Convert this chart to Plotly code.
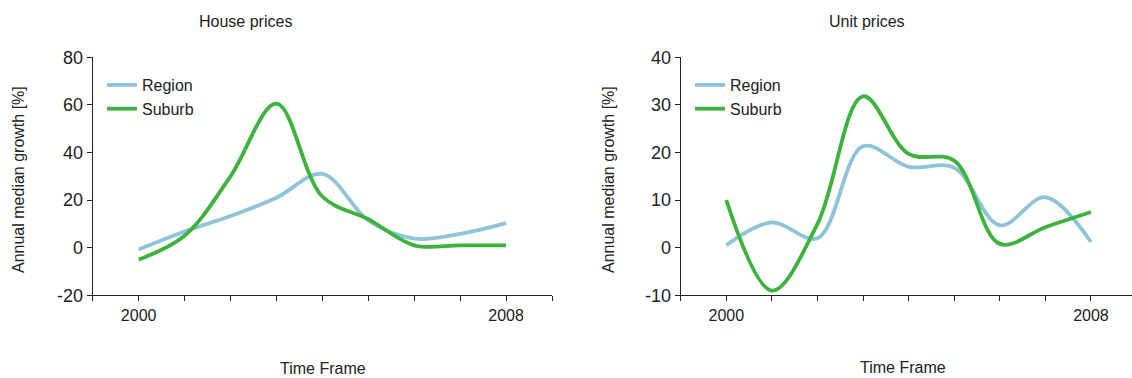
import plotly.graph_objects as go

years = [2000, 2001, 2002, 2003, 2004, 2005, 2006, 2007, 2008]

house_region = [-0.8, 6.8, 13.3, 21.0, 31.0, 11.5, 3.8, 5.8, 10.3]
house_suburb = [-5.0, 5.0, 30.0, 60.5, 21.5, 12.0, 1.0, 1.0, 1.0]

unit_region = [0.5, 5.3, 2.0, 21.3, 17.0, 16.8, 4.7, 10.6, 1.2]
unit_suburb = [10.0, -9.0, 5.0, 31.8, 19.7, 18.3, 0.8, 4.3, 7.5]

house_yticks = [-20, 0, 20, 40, 60, 80]
unit_yticks = [-10, 0, 10, 20, 30, 40]
xtick_vals = list(range(1999, 2010))
xtick_text = ["" if v not in (2000, 2008) else str(v) for v in xtick_vals]

REGION_COLOR = "#8fc3da"
SUBURB_COLOR = "#3db33d"
TEXT = "#222222"
AXIS = "#222222"
FONT = "Liberation Sans, Arial, sans-serif"

W, H = 1132, 378

def px_x(p):
    return p / W

def px_y(p):
    return 1 - p / H

fig = go.Figure()

LW = 3.8
fig.add_trace(go.Scatter(x=years, y=house_region, name="Region", mode="lines",
                         line=dict(color=REGION_COLOR, width=LW, shape="spline", smoothing=1.0),
                         xaxis="x", yaxis="y", legend="legend"))
fig.add_trace(go.Scatter(x=years, y=house_suburb, name="Suburb", mode="lines",
                         line=dict(color=SUBURB_COLOR, width=LW, shape="spline", smoothing=1.0),
                         xaxis="x", yaxis="y", legend="legend"))
fig.add_trace(go.Scatter(x=years, y=unit_region, name="Region", mode="lines",
                         line=dict(color=REGION_COLOR, width=LW, shape="spline", smoothing=1.0),
                         xaxis="x2", yaxis="y2", legend="legend2"))
fig.add_trace(go.Scatter(x=years, y=unit_suburb, name="Suburb", mode="lines",
                         line=dict(color=SUBURB_COLOR, width=LW, shape="spline", smoothing=1.0),
                         xaxis="x2", yaxis="y2", legend="legend2"))

ydom = [px_y(295.3), px_y(57.3)]

common_x = dict(tickmode="array", tickvals=xtick_vals, ticktext=xtick_text,
                ticks="outside", ticklen=5, tickcolor=AXIS, showline=True,
                linecolor=AXIS, linewidth=1, showgrid=False, zeroline=False,
                tickfont=dict(size=16, color=TEXT, family=FONT), fixedrange=True,
                automargin=False)
common_y = dict(ticks="outside", ticklen=5, tickcolor=AXIS, showline=True,
                linecolor=AXIS, linewidth=1, showgrid=False, zeroline=False,
                tickfont=dict(size=18, color=TEXT, family=FONT), fixedrange=True,
                automargin=False, tickmode="array")

legend_common = dict(font=dict(size=16, color=TEXT, family=FONT),
                     bgcolor="rgba(0,0,0,0)", itemwidth=30, tracegroupgap=0,
                     xanchor="left", yanchor="top", itemclick=False)

fig.update_layout(
    width=W, height=H,
    margin=dict(l=0, r=0, t=0, b=0, pad=0, autoexpand=False),
    paper_bgcolor="white", plot_bgcolor="white",
    font=dict(family=FONT, color=TEXT),
    xaxis=dict(domain=[px_x(92.7), px_x(552)], range=[1999, 2009], anchor="y", **common_x),
    yaxis=dict(domain=ydom, range=[-20, 80], tickvals=house_yticks,
               ticktext=[str(v) for v in house_yticks], anchor="x", **common_y),
    xaxis2=dict(domain=[px_x(680.7), 1.0], range=[1999, 2008.9], anchor="y2", **common_x),
    yaxis2=dict(domain=ydom, range=[-10, 40], tickvals=unit_yticks,
                ticktext=[str(v) for v in unit_yticks], anchor="x2", **common_y),
    legend=dict(x=px_x(102), y=px_y(68), **legend_common),
    legend2=dict(x=px_x(690), y=px_y(68), **legend_common),
    showlegend=True,
)

annotations = [
    dict(text="House prices", x=px_x(245), y=px_y(21)),
    dict(text="Unit prices", x=px_x(867), y=px_y(21)),
    dict(text="Time Frame", x=px_x(323), y=px_y(368)),
    dict(text="Time Frame", x=px_x(903), y=px_y(367)),
    dict(text="Annual median growth [%]", x=px_x(18), y=px_y(180), textangle=-90),
    dict(text="Annual median growth [%]", x=px_x(608), y=px_y(180), textangle=-90),
]
for a in annotations:
    fig.add_annotation(xref="paper", yref="paper", showarrow=False,
                       xanchor="center", yanchor="middle",
                       font=dict(size=16, color=TEXT, family=FONT), **a)

fig.write_html("out.html", config={"displayModeBar": False},
               post_script="document.body.style.margin='0';")
